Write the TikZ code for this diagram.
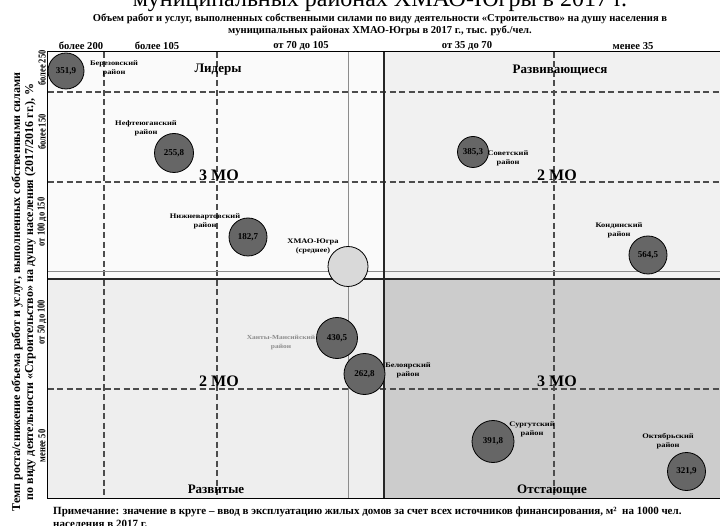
\documentclass[tikz,border=0pt]{standalone}
\usepackage{fontspec}
\setmainfont{Liberation Serif}
\newfontfamily\widefont{Liberation Serif}[FakeStretch=1.2]
\newfontfamily\narrowfont{Liberation Serif}[FakeStretch=0.8]
\usetikzlibrary{positioning}
\definecolor{leadfill}{HTML}{FAFAFA}
\definecolor{growfill}{HTML}{F1F1F1}
\definecolor{devfill}{HTML}{EEEEEE}
\definecolor{lagfill}{HTML}{CCCCCC}
\definecolor{bubblefill}{HTML}{666666}
\definecolor{meanfill}{HTML}{D9D9D9}
\tikzset{x=1pt, y=-1pt,
    every node/.style={
        inner sep=0pt,
        align=center,
        font=\bfseries},
    bubble/.style={
        circle,
        draw=black,
        line width=0.8pt,
        fill=bubblefill,
        font=\bfseries\fontsize{9}{10}\selectfont},
    rayon/.style={
        font=\widefont\bfseries\fontsize{7}{9}\selectfont},
    zone/.style={
        font=\bfseries\fontsize{13}{14}\selectfont},
    mocount/.style={
        font=\bfseries\fontsize{16}{17}\selectfont},
    head/.style={
        font=\bfseries\fontsize{10.6}{12}\selectfont},
    rowhead/.style={
        rotate=90,
        font=\narrowfont\bfseries\fontsize{10.6}{12}\selectfont},
    grid/.style={
        dashed,
        dash pattern=on 6pt off 3.5pt,
        line width=1.2pt,
        draw=black!70},
    mean/.style={
        line width=0.8pt,
        draw=black!45},
    split/.style={
        line width=1.2pt,
        draw=black!85}}

\begin{document}
\begin{tikzpicture}
        \useasboundingbox (0,0) rectangle (720,526);

        \fill[leadfill] (47.5,52) rectangle (384,279);
        \fill[growfill] (384,52) rectangle (721,279);
        \fill[devfill] (47.5,279) rectangle (384,498);
        \fill[lagfill] (384,279) rectangle (721,498);

        \foreach \x in {104,217,554} \draw[grid] (\x,52) -- (\x,498);
        \foreach \y in {92,182,389} \draw[grid] (47.5,\y) -- (721,\y);
        \draw[mean] (348,52) -- (348,498);
        \draw[mean] (47.5,271) -- (721,271);
        \draw[split] (384,52) -- (384,498);
        \draw[split] (47.5,279) -- (721,279);
        \draw[line width=1pt] (47.5,52) rectangle (721,498);

        \node[font=\fontsize{24}{26}\selectfont, anchor=base] (bigtitle) at (380,7) {муниципальных районах ХМАО-Югры в 2017 г.};
        \node[head] (title) at (380,25) {Объем работ и услуг, выполненных собственными силами по виду деятельности «Строительство» на душу населения в\\муниципальных районах ХМАО-Югры в 2017 г., тыс. руб./чел.};

        \node[head] (c1) at (81,46) {более 200};
        \node[head] (c2) at (157,46) {более 105};
        \node[head] (c3) at (301,46) {от 70 до 105};
        \node[head] (c4) at (467,46) {от 35 до 70};
        \node[head] (c5) at (633,46) {менее 35};

        \node[rowhead] (r1) at (42,68) {более 250};
        \node[rowhead] (r2) at (42,132) {более 150};
        \node[rowhead] (r3) at (42,222) {от 100 до 150};
        \node[rowhead] (r4) at (42,322) {от 50 до 100};
        \node[rowhead] (r5) at (42,446) {менее 50};
        \node[rotate=90, font=\bfseries\fontsize{12}{13}\selectfont] (ytitle) at (23.5,292) {Темп роста/снижение объема работ и услуг, выполненных собственными силами\\по виду деятельности «Строительство» на душу населения (2017/2016 гг.), \%};

        \node[zone] (lead) at (218,70) {Лидеры};
        \node[zone] (grow) at (560,70) {Развивающиеся};
        \node[zone] (dev) at (216,489) {Развитые};
        \node[zone] (lag) at (552,490) {Отстающие};

        \node[mocount] (mo1) at (219,175) {3 МО};
        \node[mocount] (mo2) at (557,175) {2 МО};
        \node[mocount] (mo3) at (219,381) {2 МО};
        \node[mocount] (mo4) at (557,381) {3 МО};

        \node[bubble, minimum size=36pt] (berez) at (66,71) {351,9};
        \node[bubble, minimum size=39pt] (nefte) at (174,153) {255,8};
        \node[bubble, minimum size=38pt] (nizhn) at (248,237) {182,7};
        \node[bubble, minimum size=40pt, fill=meanfill] (hmao) at (348,266.5) {};
        \node[bubble, minimum size=41pt] (hanty) at (337,338) {430,5};
        \node[bubble, minimum size=41pt] (beloy) at (364.5,374) {262,8};
        \node[bubble, minimum size=31pt] (sovet) at (473,152) {385,3};
        \node[bubble, minimum size=38pt] (kondi) at (648,255) {564,5};
        \node[bubble, minimum size=42pt] (surgu) at (493,441.5) {391,8};
        \node[bubble, minimum size=38pt] (oktya) at (686.5,471.5) {321,9};

        \node[rayon] (berezl) at (114,68.5) {Березовский\\район};
        \node[rayon] (neftel) at (146,128.5) {Нефтеюганский\\район};
        \node[rayon] (nizhnl) at (205,221.5) {Нижневартовский\\район};
        \node[rayon] (hmaol) at (313,246.5) {ХМАО-Югра\\(среднее)};
        \node[rayon, font=\widefont\bfseries\fontsize{6.2}{9}\selectfont, text=black!45] (hantyl) at (281,342.5) {Ханты-Мансийский\\район};
        \node[rayon] (beloyl) at (408,370.5) {Белоярский\\район};
        \node[rayon] (sovetl) at (508,158) {Советский\\район};
        \node[rayon] (kondil) at (619,230) {Кондинский\\район};
        \node[rayon] (surgul) at (532,429) {Сургутский\\район};
        \node[rayon] (oktyal) at (668,441.5) {Октябрьский\\район};

        \node[font=\bfseries\fontsize{11}{13}\selectfont, anchor=base west, align=left] (note) at (53,527) {Примечание: значение в круге – ввод в эксплуатацию жилых домов за счет всех источников финансирования, м²\ \ на 1000 чел.\\населения в 2017 г.};

    \end{tikzpicture}
\end{document}
